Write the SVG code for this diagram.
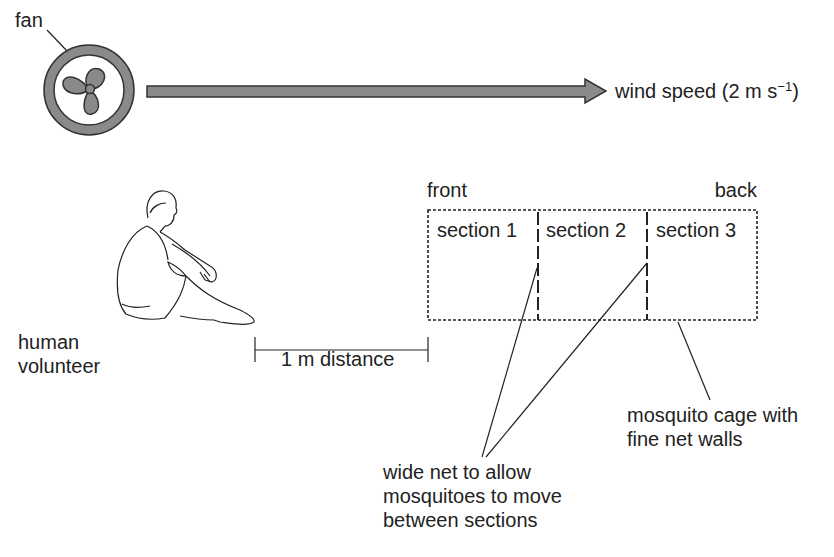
<svg xmlns="http://www.w3.org/2000/svg" width="834" height="557" viewBox="0 0 834 557">
<style>
text{font-family:"Liberation Sans",Arial,sans-serif;font-size:20px;fill:#222}
.l{stroke:#222;stroke-width:1.2;fill:none}
.d{stroke:#222;stroke-width:1.6;fill:none;stroke-dasharray:3 2}
.w{stroke:#222;stroke-width:2;fill:none;stroke-dasharray:13 4}
.g{fill:#8a8a8a;stroke:#333;stroke-width:1.5}
</style>
<rect width="834" height="557" fill="#fff"/>
<g id="fan">
<text x="15" y="27">fan</text>
<line class="l" x1="47" y1="30" x2="68" y2="52"/>
<path class="g" fill-rule="evenodd" d="M134 90 A45 45 0 1 0 44 90 A45 45 0 1 0 134 90 Z M124 90 A35 35 0 1 0 54 90 A35 35 0 1 0 124 90 Z"/>
<path class="g" d="M89 90 C82 80 88 66 99 69 C110 74 104 88 89 90 Z"/>
<path class="g" d="M89 90 C76 98 62 92 63 82 C66 72 82 78 89 90 Z"/>
<path class="g" d="M89 90 C100 96 102 112 92 114 C82 116 82 102 89 90 Z"/>
<circle cx="90" cy="89" r="4.5" class="g"/>
</g>
<g id="wind">
<path class="g" d="M147 86 H585 V79 L606 91 L585 103 V97 H147 Z"/>
<text x="615" y="98">wind speed (2 m s<tspan dy="-7" font-size="13">−1</tspan><tspan dy="7">)</tspan></text>
</g>
<g id="human">
<path class="l" d="M148 218 C144 202 152 190 164 191 C174 192 177 200 176 208 C178 212 176 214 174 215 C174 222 170 226 165 226 L160 232"/>
<path class="l" d="M150 213 C153 206 160 203 166 203"/>
<path class="l" d="M160 232 C168 236 178 244 185 250 L210 266 C218 270 218 280 212 282 L205 280"/>
<path class="l" d="M147 226 C132 232 122 250 118 270 C116 290 118 305 126 314 C140 320 154 320 165 318"/>
<path class="l" d="M147 226 C160 232 166 246 168 260"/>
<path class="l" d="M165 318 C180 300 184 288 186 276 C200 290 214 300 240 310 C248 314 255 318 254 322 C248 326 236 324 220 322 L214 320 C200 320 190 318 180 316"/>
<path class="l" d="M186 276 C178 266 172 264 168 262 C170 270 176 276 186 276"/>
<path class="l" d="M172 244 C186 252 200 262 210 276"/>
<path class="l" d="M205 280 L200 272 M210 282 L204 274"/>
<path class="l" d="M122 304 C130 308 140 308 150 306"/>
</g>
<text x="18" y="349">human</text>
<text x="18" y="373">volunteer</text>
<g id="distance">
<line class="l" x1="255" y1="350" x2="428" y2="350"/>
<line class="l" x1="255" y1="337" x2="255" y2="362" stroke-width="1.6"/>
<line class="l" x1="428" y1="337" x2="428" y2="362" stroke-width="1.6"/>
<text x="281" y="366">1 m distance</text>
</g>
<g id="cage">
<rect class="d" x="428" y="210" width="329" height="110"/>
<line class="w" x1="538" y1="212" x2="538" y2="320"/>
<line class="w" x1="647" y1="212" x2="647" y2="320"/>
<text x="427" y="197">front</text>
<text x="757" y="197" text-anchor="end">back</text>
<text x="437" y="237">section 1</text>
<text x="546" y="237">section 2</text>
<text x="656" y="237">section 3</text>
</g>
<g id="connectors">
<line class="l" x1="537" y1="268" x2="482" y2="457"/>
<line class="l" x1="647" y1="263" x2="486" y2="457"/>
<line class="l" x1="678" y1="322" x2="710" y2="400"/>
</g>
<text x="627" y="422">mosquito cage with</text>
<text x="627" y="446">fine net walls</text>
<text x="383" y="479">wide net to allow</text>
<text x="383" y="503">mosquitoes to move</text>
<text x="383" y="527">between sections</text>
</svg>
